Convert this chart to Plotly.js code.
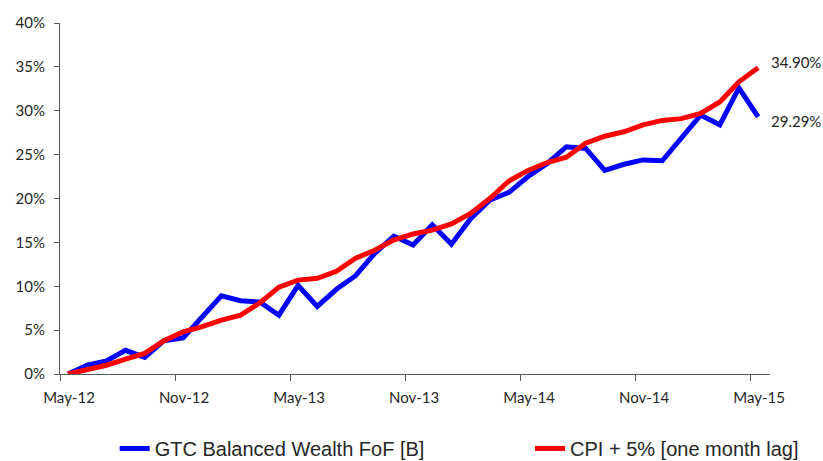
<!DOCTYPE html>
<html>
<head>
<meta charset="utf-8">
<script src="https://cdn.plot.ly/plotly-3.0.1.min.js"></script>
<style>html,body{margin:0;padding:0;background:#fff;}#chart{width:823px;height:461px;}</style>
</head>
<body>
<div id="chart"></div>
<script>
const months = ["May-12","Jun-12","Jul-12","Aug-12","Sep-12","Oct-12","Nov-12","Dec-12","Jan-13","Feb-13","Mar-13","Apr-13",
  "May-13","Jun-13","Jul-13","Aug-13","Sep-13","Oct-13","Nov-13","Dec-13","Jan-14","Feb-14","Mar-14","Apr-14",
  "May-14","Jun-14","Jul-14","Aug-14","Sep-14","Oct-14","Nov-14","Dec-14","Jan-15","Feb-15","Mar-15","Apr-15","May-15"];
const gtcSeries = [0.0,1.0,1.5,2.7,1.9,3.8,4.1,6.5,8.9,8.35,8.2,6.7,
  10.1,7.7,9.65,11.2,13.75,15.7,14.7,17.0,14.8,17.7,19.8,20.7,
  22.5,24.0,25.9,25.7,23.2,23.9,24.4,24.3,27.0,29.5,28.4,32.6,29.29];
const cpiSeries = [0.0,0.45,1.0,1.7,2.35,3.8,4.8,5.4,6.15,6.7,8.1,9.9,
  10.7,10.9,11.7,13.2,14.1,15.3,15.95,16.4,17.1,18.3,20.0,22.0,
  23.2,24.1,24.7,26.3,27.1,27.6,28.4,28.9,29.1,29.7,31.0,33.3,34.90];
const tickEvery = 6;
const gtcName = "GTC Balanced Wealth FoF [B]";
const cpiName = "CPI + 5% [one month lag]";

const idx = months.map((m,i)=>i);
const tickIdx = idx.filter(i => i % tickEvery === 0);
const tickOffset = -0.42;
const last = months.length - 1;

const traces = [
  {x: idx, y: gtcSeries, type: "scatter", mode: "lines", name: gtcName, legend: "legend",
   line: {color: "#0000ff", width: 5}, hoverinfo: "skip"},
  {x: idx, y: cpiSeries, type: "scatter", mode: "lines", name: cpiName, legend: "legend2",
   line: {color: "#ff0000", width: 5}, hoverinfo: "skip"}
];

const tickFont = {family: "Lato, 'Liberation Sans', sans-serif", size: 15, color: "#262626"};
const legFont = {family: "'Liberation Sans', Arial, sans-serif", size: 20, color: "#262626"};

const layout = {
  width: 823, height: 461,
  margin: {l: 60, r: 53, t: 23, b: 87, autoexpand: false},
  paper_bgcolor: "#fff", plot_bgcolor: "#fff",
  showlegend: true,
  legend: {orientation: "h", x: 0.077, xanchor: "left", y: -0.212, yanchor: "middle",
    font: legFont, bgcolor: "rgba(0,0,0,0)"},
  legend2: {orientation: "h", x: 0.662, xanchor: "left", y: -0.212, yanchor: "middle",
    font: legFont, bgcolor: "rgba(0,0,0,0)"},
  xaxis: {range: [tickOffset, last + 0.62], showgrid: false, zeroline: false,
    showline: true, linecolor: "#595959", linewidth: 1,
    tickmode: "array", tickvals: tickIdx.map(i => i + tickOffset), ticktext: tickIdx.map(i => months[i]),
    ticks: "outside", ticklen: 6, tickcolor: "#595959", ticklabelshift: 9, ticklabelstandoff: 4,
    tickfont: tickFont, fixedrange: true},
  yaxis: {range: [0, 40], dtick: 5, ticksuffix: "%", showgrid: false, zeroline: false,
    showline: true, linecolor: "#595959", linewidth: 1,
    ticks: "outside", ticklen: 5, tickcolor: "#595959", ticklabelstandoff: 6,
    tickfont: tickFont, fixedrange: true},
  annotations: [
    {x: last, y: cpiSeries[last], xref: "x", yref: "y", text: cpiSeries[last].toFixed(2) + "%",
     showarrow: false, xanchor: "left", yanchor: "middle", xshift: 11, yshift: 6, font: tickFont},
    {x: last, y: gtcSeries[last], xref: "x", yref: "y", text: gtcSeries[last].toFixed(2) + "%",
     showarrow: false, xanchor: "left", yanchor: "middle", xshift: 11, yshift: -4, font: tickFont}
  ]
};

Plotly.newPlot("chart", traces, layout, {displayModeBar: false, staticPlot: true});
</script>
</body>
</html>
